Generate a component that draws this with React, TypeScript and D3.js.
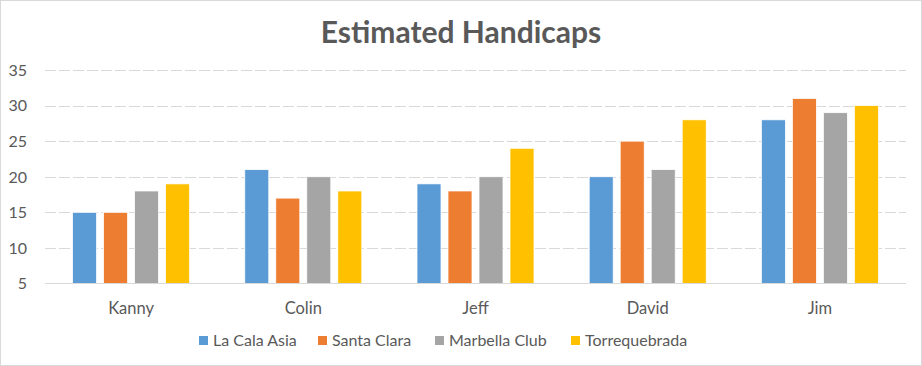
import * as d3 from "d3"

const categories = ["Kanny", "Colin", "Jeff", "David", "Jim"]
const seriesNames = ["La Cala Asia", "Santa Clara", "Marbella Club", "Torrequebrada"]
const seriesColors = ["#5B9BD5", "#ED7D31", "#A5A5A5", "#FFC000"]
const laCalaAsia = [15, 21, 19, 20, 28]
const santaClara = [15, 17, 18, 25, 31]
const marbellaClub = [18, 20, 20, 21, 29]
const torrequebrada = [19, 18, 24, 28, 30]
const yTicks = [5, 10, 15, 20, 25, 30, 35]

const seriesValues = [laCalaAsia, santaClara, marbellaClub, torrequebrada]

const W = 922
const H = 366
const FONT = "Lato, 'Open Sans', sans-serif"
const TEXT = "#595959"

const App = () => {
  const plotLeft = 45
  const plotRight = 906

  const x0 = d3.scaleBand<string>().domain(categories).range([plotLeft, plotRight])
  const x1 = d3
    .scaleBand<string>()
    .domain(seriesNames)
    .range([0, x0.bandwidth()])
    .paddingInner(0.226)
    .paddingOuter(0.89)
  const y = d3.scaleLinear().domain([5, 35]).range([283.5, 70])

  // legend layout (x start of each swatch)
  const legendX = [199, 318, 435, 571]

  return (
    <svg
      width={W}
      height={H}
      style={{ position: "absolute", left: 0, top: 0, background: "#fff" }}
      fontFamily={FONT}
    >
      <rect x={0.5} y={0.5} width={W - 1} height={H - 1} fill="#fff" stroke="#d9d9d9" />

      <text x={461} y={43} textAnchor="middle" fontSize={30} fontWeight="bold" fill={TEXT}>
        Estimated Handicaps
      </text>

      {/* gridlines */}
      {yTicks.slice(1).map((t) => (
        <line
          key={t}
          x1={plotLeft}
          x2={plotRight}
          y1={Math.round(y(t)) + 0.5}
          y2={Math.round(y(t)) + 0.5}
          stroke="#d9d9d9"
          strokeDasharray="11,3"
        />
      ))}

      {/* y labels */}
      {yTicks.map((t) => (
        <text key={t} x={27} y={y(t)} dy="0.36em" textAnchor="end" fontSize={16} fill={TEXT}>
          {t}
        </text>
      ))}

      {/* bars */}
      {categories.map((c, ci) => (
        <g key={c} transform={`translate(${x0(c)},0)`}>
          {seriesNames.map((s, si) => {
            const v = seriesValues[si][ci]
            return (
              <rect
                key={s}
                x={x1(s)}
                y={y(v)}
                width={x1.bandwidth()}
                height={y(5) - y(v)}
                fill={seriesColors[si]}
                stroke="#fff"
                strokeWidth={0.75}
              />
            )
          })}
        </g>
      ))}

      {/* baseline */}
      <line x1={plotLeft} x2={plotRight} y1={283.5} y2={283.5} stroke="#d9d9d9" />

      {/* category labels */}
      {categories.map((c) => (
        <text
          key={c}
          x={(x0(c) ?? 0) + x0.bandwidth() / 2}
          y={314}
          textAnchor="middle"
          fontSize={16.5}
          fill={TEXT}
        >
          {c}
        </text>
      ))}

      {/* legend */}
      {seriesNames.map((s, i) => (
        <g key={s} transform={`translate(${legendX[i]},336)`}>
          <rect x={0} y={0} width={9} height={9} fill={seriesColors[i]} />
          <text x={14} y={10} fontSize={16} fill={TEXT}>
            {s}
          </text>
        </g>
      ))}
    </svg>
  )
}

export default App
